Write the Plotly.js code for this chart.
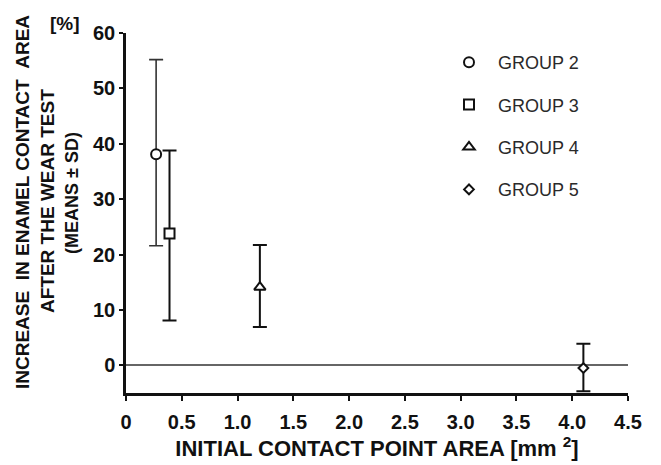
<!DOCTYPE html>
<html>
<head>
<meta charset="utf-8">
<script src="https://cdn.plot.ly/plotly-3.0.1.min.js"></script>
<style>
  html, body { margin: 0; padding: 0; background: #fff; }
  #chart { width: 661px; height: 465px; }
</style>
</head>
<body>
<div id="chart"></div>
<script>
// ---- data ----
const groups   = ['GROUP 2', 'GROUP 3', 'GROUP 4', 'GROUP 5'];
const symbols  = ['circle', 'square', 'triangle-up', 'diamond'];
const xValues  = [0.27, 0.39, 1.2, 4.1];          // initial contact point area [mm²]
const means    = [38.1, 23.8, 14.1, -0.5];        // increase in enamel contact area [%]
const sdPlus   = [17.1, 15.0, 7.6, 4.4];
const sdMinus  = [16.5, 15.7, 7.2, 4.2];
const xTickVals = [0, 0.5, 1.0, 1.5, 2.0, 2.5, 3.0, 3.5, 4.0, 4.5];
const xTickText = ['0', '0.5', '1.0', '1.5', '2.0', '2.5', '3.0', '3.5', '4.0', '4.5'];
const yTickVals = [0, 10, 20, 30, 40, 50, 60];

// ---- layout helpers (pixel -> paper) ----
const W = 661, H = 465;
const M = { l: 126, r: 33, t: 33, b: 72 };
const pw = W - M.l - M.r, ph = H - M.t - M.b;
const px = x => (x - M.l) / pw;
const py = y => (H - M.b - y) / ph;

const FONT = 'Liberation Sans, Arial, sans-serif';
const markerSizes = [10, 10, 10, 7.5];
const barThick = [1.6, 2, 2, 2];
const barColor = ['#333', '#111', '#111', '#111'];

const traces = groups.map((g, i) => ({
  type: 'scatter',
  mode: 'markers',
  name: g,
  legendgroup: g,
  x: [xValues[i]],
  y: [means[i]],
  error_y: {
    type: 'data', symmetric: false,
    array: [sdPlus[i]], arrayminus: [sdMinus[i]],
    color: barColor[i], thickness: barThick[i], width: 7
  },
  marker: {
    symbol: symbols[i], size: markerSizes[i], color: '#fff',
    line: { color: '#111', width: 2 }
  },
  cliponaxis: false,
  hoverinfo: 'x+y'
}));

const nb = '\u00A0';
const layout = {
  width: W, height: H,
  margin: M,
  paper_bgcolor: '#fff', plot_bgcolor: '#fff',
  font: { family: FONT, color: '#111' },
  showlegend: true,
  legend: {
    x: px(440), y: py(44), xanchor: 'left', yanchor: 'top',
    font: { family: FONT, size: 18, color: '#2a2a2a' },
    tracegroupgap: 16, itemwidth: 48,
    bgcolor: 'rgba(0,0,0,0)'
  },
  xaxis: {
    range: [0, 4.5],
    tickvals: xTickVals, ticktext: xTickText,
    ticks: 'outside', ticklen: 5, tickwidth: 2, tickcolor: '#111',
    ticklabelstandoff: 4,
    showline: true, linecolor: '#111', linewidth: 2.5,
    showgrid: false, zeroline: false,
    tickfont: { family: FONT, size: 20, color: '#111', weight: 'bold' },
    title: {
      text: 'INITIAL CONTACT POINT AREA [mm <sup>2</sup>]',
      font: { family: FONT, size: 22, color: '#111', weight: 'bold' },
      standoff: 3
    }
  },
  yaxis: {
    range: [-5, 60],
    tickvals: yTickVals,
    ticks: 'outside', ticklen: 4, tickwidth: 2, tickcolor: '#111',
    showline: true, linecolor: '#111', linewidth: 2.5,
    showgrid: false,
    zeroline: true, zerolinecolor: '#666', zerolinewidth: 1.5,
    tickfont: { family: FONT, size: 20, color: '#111', weight: 'bold' }
  },
  annotations: [
    { xref: 'paper', yref: 'paper', x: px(22), y: py(202), textangle: -90,
      showarrow: false, xanchor: 'center', yanchor: 'middle',
      text: 'INCREASE' + nb + nb + 'IN ENAMEL CONTACT' + nb + nb + 'AREA',
      font: { family: FONT, size: 19, color: '#111', weight: 'bold' } },
    { xref: 'paper', yref: 'paper', x: px(47), y: py(201), textangle: -90,
      showarrow: false, xanchor: 'center', yanchor: 'middle',
      text: 'AFTER THE WEAR TEST',
      font: { family: FONT, size: 19, color: '#111', weight: 'bold' } },
    { xref: 'paper', yref: 'paper', x: px(72), y: py(193), textangle: -90,
      showarrow: false, xanchor: 'center', yanchor: 'middle',
      text: '(MEANS ± SD)',
      font: { family: FONT, size: 18, color: '#111', weight: 'bold' } },
    { xref: 'paper', yref: 'paper', x: px(65), y: py(23),
      showarrow: false, xanchor: 'center', yanchor: 'middle',
      text: '[%]',
      font: { family: FONT, size: 19, color: '#111', weight: 'bold' } }
  ]
};

Plotly.newPlot('chart', traces, layout, { displayModeBar: false, responsive: false });
</script>
</body>
</html>
